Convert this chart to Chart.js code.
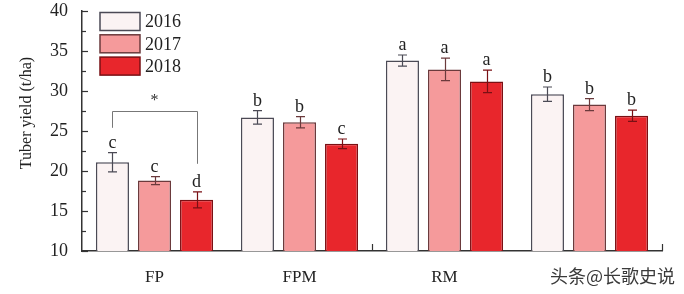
<!DOCTYPE html>
<html>
<head>
<meta charset="utf-8">
<script src="https://cdn.jsdelivr.net/npm/chart.js@4.4.0/dist/chart.umd.min.js"></script>
<style>
html,body{margin:0;padding:0;background:#fff;}
#wrap{width:684px;height:294px;position:relative;}
</style>
</head>
<body>
<div id="wrap"><canvas id="c" width="684" height="294"></canvas></div>
<script>
// ---- data ----
const categories = ['FP', 'FPM', 'RM', ''];
const seriesNames = ['2016', '2017', '2018'];
const yield2016 = [21.1, 26.7, 33.8, 29.6];
const yield2017 = [18.8, 26.1, 32.7, 28.3];
const yield2018 = [16.4, 23.4, 31.2, 26.9];
const err2016 = [1.2, 0.85, 0.7, 0.9];
const err2017 = [0.5, 0.7, 1.4, 0.75];
const err2018 = [1.0, 0.6, 1.4, 0.7];
const letters2016 = ['c', 'b', 'a', 'b'];
const letters2017 = ['c', 'b', 'a', 'b'];
const letters2018 = ['d', 'c', 'a', 'b'];
const yTicks = [10, 15, 20, 25, 30, 35, 40];
const bracketTop = 27.5, bracketLeftEnd = 25.4, bracketRightEnd = 20.9;
const yTitle = 'Tuber yield (t/ha)';
const watermark = '头条@长歌史说';

const fills = ['#fbf3f3', '#f59a9b', '#e8262c'];
const borders = ['#4b4a55', '#6b3a3c', '#7a1014'];
const serif = "'Liberation Serif', 'Times New Roman', serif";
const errs = [err2016, err2017, err2018];
const letters = [letters2016, letters2017, letters2018];

const overlay = {
  id: 'overlay',
  afterDatasetsDraw(chart) {
    const ctx = chart.ctx;
    const ys = chart.scales.y, xs = chart.scales.x;
    const area = chart.chartArea;
    ctx.save();
    // y ticks inward (major + minor)
    ctx.strokeStyle = '#333'; ctx.lineWidth = 1.2;
    for (let v = 10; v <= 40; v += 2.5) {
      const py = Math.round(ys.getPixelForValue(v)) + 0.5;
      const len = (v % 5 === 0) ? 6 : 4;
      ctx.beginPath(); ctx.moveTo(area.left, py); ctx.lineTo(area.left + len, py); ctx.stroke();
    }
    // x ticks upward at boundaries
    [1.5, 3.5].forEach(b => {
      const px = Math.round(xs.getPixelForValue(b)) + 0.5;
      ctx.beginPath(); ctx.moveTo(px, area.bottom); ctx.lineTo(px, area.bottom - 7); ctx.stroke();
    });
    // error bars and letters
    chart.data.datasets.forEach((ds, di) => {
      const meta = chart.getDatasetMeta(di);
      meta.data.forEach((bar, i) => {
        const v = ds.data[i], e = errs[di][i];
        const top = ys.getPixelForValue(v + e), bot = ys.getPixelForValue(v - e);
        const x = Math.round(bar.x) + 0.5;
        ctx.strokeStyle = borders[di]; ctx.lineWidth = 1.2;
        ctx.beginPath();
        ctx.moveTo(x, top); ctx.lineTo(x, bot);
        ctx.moveTo(x - 4.5, top); ctx.lineTo(x + 4.5, top);
        ctx.moveTo(x - 4.5, bot); ctx.lineTo(x + 4.5, bot);
        ctx.stroke();
        ctx.fillStyle = '#222';
        ctx.font = '18px ' + serif;
        ctx.textAlign = 'center'; ctx.textBaseline = 'alphabetic';
        ctx.fillText(letters[di][i], bar.x, top - 5);
      });
    });
    // significance bracket
    const b0 = chart.getDatasetMeta(0).data[0], b2 = chart.getDatasetMeta(2).data[0];
    const yt = ys.getPixelForValue(bracketTop);
    ctx.strokeStyle = '#777'; ctx.lineWidth = 1;
    ctx.beginPath();
    ctx.moveTo(Math.round(b0.x) + 0.5, ys.getPixelForValue(bracketLeftEnd));
    ctx.lineTo(Math.round(b0.x) + 0.5, Math.round(yt) + 0.5);
    ctx.lineTo(Math.round(b2.x) + 0.5, Math.round(yt) + 0.5);
    ctx.lineTo(Math.round(b2.x) + 0.5, ys.getPixelForValue(bracketRightEnd));
    ctx.stroke();
    ctx.fillStyle = '#333'; ctx.font = '16px ' + serif;
    ctx.textAlign = 'center'; ctx.textBaseline = 'middle';
    ctx.fillText('*', (b0.x + b2.x) / 2, yt - 10);
    // legend
    ctx.textAlign = 'left'; ctx.textBaseline = 'middle';
    seriesNames.forEach((n, k) => {
      const bx = area.left + 18, by = area.top + 1.5 + k * 22.3;
      ctx.fillStyle = fills[k]; ctx.fillRect(bx, by, 40, 18);
      ctx.strokeStyle = borders[k]; ctx.lineWidth = 1.5; ctx.strokeRect(bx, by, 40, 18);
      ctx.fillStyle = '#222'; ctx.font = '18px ' + serif;
      ctx.fillText(n, bx + 45, by + 10);
    });
    // y title
    ctx.save();
    ctx.translate(27, 113);
    ctx.rotate(-Math.PI / 2);
    ctx.fillStyle = '#222'; ctx.font = '16px ' + serif;
    ctx.textAlign = 'center'; ctx.textBaseline = 'middle';
    ctx.fillText(yTitle, 0, 0);
    ctx.restore();
    // watermark
    ctx.font = "18px 'Noto Sans CJK SC', sans-serif";
    ctx.textAlign = 'right'; ctx.textBaseline = 'middle';
    ctx.lineWidth = 3; ctx.strokeStyle = 'rgba(255,255,255,0.9)';
    ctx.strokeText(watermark, 675, 276);
    ctx.fillStyle = '#3a3a3a';
    ctx.fillText(watermark, 675, 276);
    ctx.restore();
  }
};

new Chart(document.getElementById('c'), {
  type: 'bar',
  data: {
    labels: categories,
    datasets: [yield2016, yield2017, yield2018].map((d, k) => ({
      label: seriesNames[k],
      data: d,
      backgroundColor: fills[k],
      borderColor: borders[k],
      borderWidth: 1.5,
      borderSkipped: 'bottom',
      categoryPercentage: 0.87,
      barPercentage: 0.786
    }))
  },
  options: {
    responsive: false,
    animation: false,
    layout: { padding: { top: 11, right: 22, left: 0, bottom: 0 } },
    plugins: { legend: { display: false }, tooltip: { enabled: false } },
    scales: {
      x: {
        grid: { display: false, drawTicks: false },
        border: { display: true, color: '#333', width: 1.5 },
        ticks: { color: '#222', font: { family: serif, size: 17 }, padding: 16 },
        afterFit(s) { s.height = 43; s.paddingLeft = 0; s.paddingRight = 0; }
      },
      y: {
        min: 10, max: 40,
        afterBuildTicks(s) { s.ticks = yTicks.map(v => ({ value: v })); },
        grid: { display: false, drawTicks: false },
        border: { display: true, color: '#333', width: 1.5 },
        ticks: { color: '#222', font: { family: serif, size: 18 }, padding: 14 },
        afterFit(s) { s.width = 82; s.paddingTop = 0; s.paddingBottom = 0; }
      }
    }
  },
  plugins: [overlay]
});
</script>
</body>
</html>
